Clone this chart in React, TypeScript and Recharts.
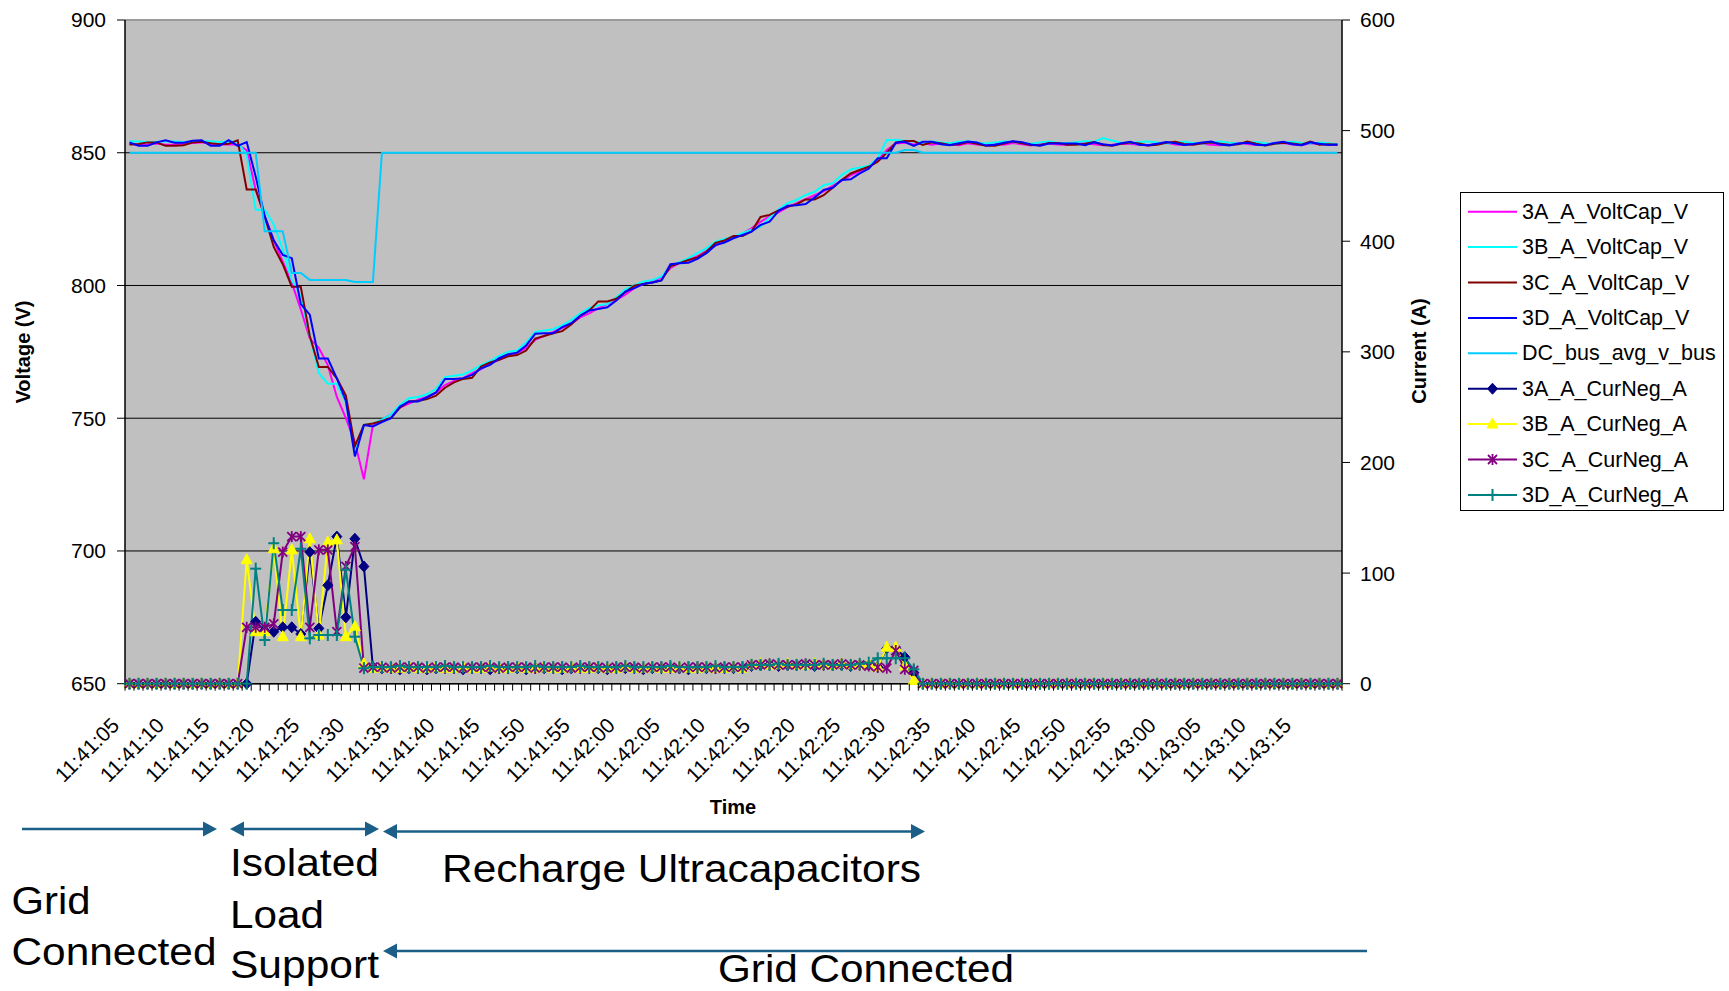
import { LineChart, Line, XAxis, YAxis, CartesianGrid, Legend, ReferenceLine } from "recharts";

const FONT = '"Liberation Sans", Arial, Helvetica, sans-serif';

// one sample per second, 11:41:05 .. 11:43:19
const TIME = [
  "11:41:05", "11:41:06", "11:41:07", "11:41:08", "11:41:09", "11:41:10", "11:41:11", "11:41:12", "11:41:13", "11:41:14",
  "11:41:15", "11:41:16", "11:41:17", "11:41:18", "11:41:19", "11:41:20", "11:41:21", "11:41:22", "11:41:23", "11:41:24",
  "11:41:25", "11:41:26", "11:41:27", "11:41:28", "11:41:29", "11:41:30", "11:41:31", "11:41:32", "11:41:33", "11:41:34",
  "11:41:35", "11:41:36", "11:41:37", "11:41:38", "11:41:39", "11:41:40", "11:41:41", "11:41:42", "11:41:43", "11:41:44",
  "11:41:45", "11:41:46", "11:41:47", "11:41:48", "11:41:49", "11:41:50", "11:41:51", "11:41:52", "11:41:53", "11:41:54",
  "11:41:55", "11:41:56", "11:41:57", "11:41:58", "11:41:59", "11:42:00", "11:42:01", "11:42:02", "11:42:03", "11:42:04",
  "11:42:05", "11:42:06", "11:42:07", "11:42:08", "11:42:09", "11:42:10", "11:42:11", "11:42:12", "11:42:13", "11:42:14",
  "11:42:15", "11:42:16", "11:42:17", "11:42:18", "11:42:19", "11:42:20", "11:42:21", "11:42:22", "11:42:23", "11:42:24",
  "11:42:25", "11:42:26", "11:42:27", "11:42:28", "11:42:29", "11:42:30", "11:42:31", "11:42:32", "11:42:33", "11:42:34",
  "11:42:35", "11:42:36", "11:42:37", "11:42:38", "11:42:39", "11:42:40", "11:42:41", "11:42:42", "11:42:43", "11:42:44",
  "11:42:45", "11:42:46", "11:42:47", "11:42:48", "11:42:49", "11:42:50", "11:42:51", "11:42:52", "11:42:53", "11:42:54",
  "11:42:55", "11:42:56", "11:42:57", "11:42:58", "11:42:59", "11:43:00", "11:43:01", "11:43:02", "11:43:03", "11:43:04",
  "11:43:05", "11:43:06", "11:43:07", "11:43:08", "11:43:09", "11:43:10", "11:43:11", "11:43:12", "11:43:13", "11:43:14",
  "11:43:15", "11:43:16", "11:43:17", "11:43:18", "11:43:19",
];

const VOLT_3A = [
  853.3, 853.0, 853.1, 853.5, 853.0, 853.1, 853.3, 853.7, 853.9, 853.3, 853.1, 853.2, 853.0,
  851, 836, 826, 817, 809, 801, 791, 780, 776.5, 770, 758, 750, 741, 727,
  747.5, 749.5, 751.5, 754, 755.5, 757, 758, 759.5, 762.5, 764, 765, 767, 768.5, 770.5, 772, 773.5,
  774.5, 776.5, 779.5, 781, 782.5, 784, 785.5, 788, 789.5, 791.5, 793, 794.5, 796.5, 799, 800.5, 801.5,
  803, 806.5, 808.5, 809.5, 811, 813, 815, 816.5, 818, 819.5, 821.5, 824, 826, 827.5, 829.5,
  831, 832.5, 834, 835.5, 837.5, 839.5, 841.5, 843, 845, 847, 851, 853.5, 853.8, 853.1, 853.6,
  853.0, 853.5, 853.2, 852.8, 853.6, 853.1, 852.9, 853.3, 853.0, 853.7,
  853.2, 852.7, 853.4, 853.4, 853.1, 852.9, 853.5, 853.6, 853.2, 852.8,
  853.0, 853.4, 853.3, 853.0, 852.7, 853.5, 853.8, 853.1, 852.9, 853.2,
  853.4, 853.0, 852.8, 853.3, 853.6, 853.3, 852.9, 853.0, 853.5, 853.7,
  853.1, 852.8, 853.6, 853.2, 853.4, 852.9,
];

const VOLT_3B = [
  854.3, 854.2, 854.0, 854.1, 854.3, 854.2, 854.0, 854.1, 854.2, 854.3, 854.0, 854.2, 854.1,
  849, 828.5, 828.5, 823, 813.5, 802, 796, 781, 767, 763, 763, 756, 737.5, 747.5,
  748, 749.5, 751.5, 755, 757.5, 758, 759, 761, 765.5, 766, 766.5, 768, 770, 771.5, 773.5, 775,
  775.5, 778.5, 782.5, 783, 783.5, 785, 787, 789.5, 791.5, 792.5, 793, 795.5, 798.5, 800, 801.5, 802,
  803.4, 807.1, 808.8, 810.3, 812.2, 814, 816.5, 817.5, 818.4, 819.7, 821, 822.2, 825.5, 828.7, 831,
  832.2, 834.1, 835.3, 837.8, 838.5, 841.6, 843.7, 844.4, 845, 847.9, 854.8, 854.8, 854.5, 854.2, 853.8,
  854.2, 853.9, 853.6, 854.1, 854.3, 853.8, 853.5, 853.9, 854.2, 854.0,
  853.7, 853.4, 853.9, 854.2, 853.8, 853.6, 854.0, 854.3, 854.1, 855.5,
  854.6, 853.8, 853.6, 854.0, 854.2, 853.9, 853.5, 853.8, 854.1, 853.7,
  853.4, 853.9, 854.2, 853.8, 853.5, 853.7, 854.0, 853.6, 853.3, 853.8,
  854.1, 853.7, 853.5, 853.9, 853.6, 853.2,
];

const VOLT_3C = [
  853.1, 853.3, 853.9, 853.9, 852.6, 852.6, 852.8, 853.9, 854.1, 853.6, 853.2, 853.4, 854.7,
  836.2, 836.2, 826, 814.5, 808, 799.5, 799.5, 781, 769.3, 769.3, 765, 758.5, 739.5, 747.5,
  748, 749, 750, 754, 756.3, 756.5, 757.2, 758.5, 761.5, 763.5, 764.8, 765.2, 769.5, 771, 772, 773.3,
  773.8, 775.5, 780, 781, 782, 782.8, 785.3, 788.6, 790.6, 794, 794, 795, 797.5, 799.9, 800.6, 801.1,
  801.9, 807.2, 808.4, 809.6, 810.6, 812.7, 816, 817, 818.6, 818.6, 820.3, 825.8, 826.6, 828.3, 829.6,
  830.6, 832.4, 832.4, 834, 836.8, 839.7, 842.2, 843.5, 844.7, 846.6, 850, 853.8, 854.4, 854.4, 852.9,
  853.9, 853.6, 852.9, 853.2, 854.0, 853.4, 852.6, 852.6, 853.5, 854.2,
  853.6, 852.9, 852.8, 853.7, 853.7, 853.0, 853.0, 853.4, 854.0, 852.9,
  852.6, 853.4, 853.9, 853.5, 852.7, 853.0, 853.8, 854.1, 853.3, 853.0,
  853.6, 853.9, 853.4, 852.9, 853.2, 854.2, 853.4, 852.7, 853.4, 853.8,
  853.5, 853.0, 854.2, 853.0, 853.2, 853.0,
];

const VOLT_3D = [
  853.9, 852.6, 852.6, 853.9, 854.7, 853.8, 853.8, 854.5, 854.7, 852.6, 852.6, 854.7, 852.6, 854.0,
  841, 826, 817, 811.5, 810.3, 793, 789, 772.5, 772.5, 765, 756.5, 735.6, 747.4,
  746.9, 748.5, 750, 754.4, 756.3, 756.3, 757.9, 759.7, 764.8, 764.8, 765.1, 766.3, 768.8, 770.1, 772.6, 774.1,
  774.7, 777.4, 781.8, 782, 782, 784.3, 785.8, 788.6, 790.6, 791.1, 791.8, 794.3, 797.7, 799, 800.6, 801.1,
  801.9, 808, 808.4, 808.6, 810, 812.2, 815.2, 816.2, 817.8, 819, 820.3, 822.8, 824, 828.1, 830,
  830.2, 830.7, 833.1, 836, 836.8, 839.7, 840, 842.2, 844, 847.9, 847.9, 853.8, 854.1, 852.6, 854.1,
  854.1, 853.2, 852.8, 853.6, 854.2, 853.9, 852.7, 853.0, 853.8, 854.3,
  854.0, 853.1, 852.6, 853.5, 853.5, 853.5, 853.5, 852.8, 853.9, 853.2,
  852.7, 853.6, 854.1, 853.0, 852.8, 853.4, 854.0, 853.6, 852.9, 853.3,
  853.9, 854.2, 853.1, 852.7, 853.5, 853.8, 853.0, 852.8, 853.7, 854.1,
  853.2, 852.8, 853.9, 853.4, 852.9, 853.1,
];

const DC_BUS = [
  850, 850, 850, 850, 850, 850, 850, 850, 850, 850, 850, 850, 850, 850, 850,
  820.4, 820.4, 820.4, 804.7, 804.7, 802.1, 802.1, 802.1, 802.1, 802.1, 801.3, 801.3, 801.3,
  850, 850, 850, 850, 850, 850, 850, 850, 850, 850, 850, 850, 850, 850, 850, 850, 850, 850, 850, 850,
  850, 850, 850, 850, 850, 850, 850, 850, 850, 850, 850, 850, 850, 850, 850, 850, 850, 850, 850, 850,
  850, 850, 850, 850, 850, 850, 850, 850, 850, 850, 850, 850, 850, 850, 850, 850, 850, 850,
  851, 851,
  850, 850, 850, 850, 850, 850, 850, 850, 850, 850, 850, 850, 850, 850, 850, 850, 850, 850, 850, 850,
  850, 850, 850, 850, 850, 850, 850, 850, 850, 850, 850, 850, 850, 850, 850, 850, 850, 850, 850, 850,
  850, 850, 850, 850, 850, 850, 850,
];

const CUR_3A = [
  0, 0, 0, 0, 0, 0, 0, 0, 0, 0, 0, 0, 0, 0,
  56, 48, 47, 51, 51, 45, 119, 50, 89, 133, 60, 131, 106, 15,
  14, 14, 13, 14, 14, 13, 14, 14, 14, 13, 14, 14, 13, 14, 14, 14, 13, 14, 14, 14,
  13, 14, 14, 14, 14, 13, 14, 14, 14, 13, 14, 14, 14, 14, 13, 14, 14, 14, 14, 14, 14,
  16, 17, 17, 16, 17, 17, 17, 16, 17, 17, 17, 16, 17, 17,
  15, 32, 32, 24, 10,
  0, 0, 0, 0, 0, 0, 0, 0, 0, 0, 0, 0, 0, 0, 0, 0, 0, 0, 0, 0, 0, 0, 0, 0,
  0, 0, 0, 0, 0, 0, 0, 0, 0, 0, 0, 0, 0, 0, 0, 0, 0, 0, 0, 0, 0, 0, 0,
];

const CUR_3B = [
  0, 0, 0, 0, 0, 0, 0, 0, 0, 0, 0, 0, 0,
  112, 47, 47, 122, 42.5, 121, 42.5, 131, 44, 128, 130, 42.5, 51.5, 18,
  14, 15, 14, 14, 15, 14, 14, 15, 14, 14, 15, 14, 14, 15, 14, 14, 15, 14, 14, 15,
  14, 14, 15, 14, 14, 15, 14, 14, 15, 14, 14, 15, 14, 14, 15, 14, 14, 15, 14, 14, 15, 14,
  17, 18, 17, 17, 18, 17, 17, 18, 17, 17, 18, 17, 17, 18,
  15, 33, 33, 16, 3,
  0, 0, 0, 0, 0, 0, 0, 0, 0, 0, 0, 0, 0, 0, 0, 0, 0, 0, 0, 0, 0, 0, 0, 0,
  0, 0, 0, 0, 0, 0, 0, 0, 0, 0, 0, 0, 0, 0, 0, 0, 0, 0, 0, 0, 0, 0, 0,
];

const CUR_3C = [
  0, 0, 0, 0, 0, 0, 0, 0, 0, 0, 0, 0, 0,
  51, 51, 51, 54, 119, 133, 133, 51, 121, 121, 47, 106, 124, 14,
  15, 15, 14, 15, 15, 15, 14, 15, 15, 15, 14, 15, 15, 15, 14, 15, 15, 15, 14, 15,
  15, 15, 14, 15, 15, 15, 14, 15, 15, 15, 14, 15, 15, 15, 14, 15, 15, 15, 14, 15, 15, 15,
  17, 17, 18, 17, 17, 17, 18, 17, 17, 17, 18, 17, 17, 16,
  15, 14, 30, 13, 12,
  0, 0, 0, 0, 0, 0, 0, 0, 0, 0, 0, 0, 0, 0, 0, 0, 0, 0, 0, 0, 0, 0, 0, 0,
  0, 0, 0, 0, 0, 0, 0, 0, 0, 0, 0, 0, 0, 0, 0, 0, 0, 0, 0, 0, 0, 0, 0,
];

const CUR_3D = [
  0, 0, 0, 0, 0, 0, 0, 0, 0, 0, 0, 0, 0, 0,
  104, 39.5, 127, 66.6, 66.6, 122, 41, 44, 44, 44, 103, 42.5, 14,
  15, 15, 15, 16, 15, 15, 15, 15, 16, 15, 15, 15, 15, 16, 15, 15, 15, 15, 16, 15,
  15, 15, 15, 16, 15, 15, 15, 15, 16, 15, 15, 15, 15, 16, 15, 15, 15, 15, 16, 15, 15, 15,
  17, 17, 17, 18, 17, 17, 17, 17, 18, 17, 17, 17, 18, 19,
  23, 23, 23, 23, 13,
  0, 0, 0, 0, 0, 0, 0, 0, 0, 0, 0, 0, 0, 0, 0, 0, 0, 0, 0, 0, 0, 0, 0, 0,
  0, 0, 0, 0, 0, 0, 0, 0, 0, 0, 0, 0, 0, 0, 0, 0, 0, 0, 0, 0, 0, 0, 0,
];

const VOLT_TICKS = [650, 700, 750, 800, 850, 900];
const CUR_TICKS = [0, 100, 200, 300, 400, 500, 600];

const SERIES = [
  { key: "v3A", name: "3A_A_VoltCap_V", color: "#ff00ff", axis: "v", shape: null },
  { key: "v3B", name: "3B_A_VoltCap_V", color: "#00ffff", axis: "v", shape: null },
  { key: "v3C", name: "3C_A_VoltCap_V", color: "#800000", axis: "v", shape: null },
  { key: "v3D", name: "3D_A_VoltCap_V", color: "#0000ff", axis: "v", shape: null },
  { key: "dc", name: "DC_bus_avg_v_bus", color: "#00ccff", axis: "v", shape: null },
  { key: "c3A", name: "3A_A_CurNeg_A", color: "#000080", axis: "a", shape: "diamond" },
  { key: "c3B", name: "3B_A_CurNeg_A", color: "#ffff00", axis: "a", shape: "triangle" },
  { key: "c3C", name: "3C_A_CurNeg_A", color: "#800080", axis: "a", shape: "star" },
  { key: "c3D", name: "3D_A_CurNeg_A", color: "#008080", axis: "a", shape: "plus" },
];

const data = TIME.map((time, i) => ({
  time,
  v3A: VOLT_3A[i],
  v3B: VOLT_3B[i],
  v3C: VOLT_3C[i],
  v3D: VOLT_3D[i],
  dc: DC_BUS[i],
  c3A: CUR_3A[i],
  c3B: CUR_3B[i],
  c3C: CUR_3C[i],
  c3D: CUR_3D[i],
}));

const PLOT_LEFT = 125;
const PLOT_RIGHT = 1342;
const BAND = (PLOT_RIGHT - PLOT_LEFT) / TIME.length;

function Marker({ shape, cx, cy, color }: { shape: string | null; cx: number; cy: number; color: string }) {
  if (cx == null || cy == null) return null;
  if (shape === "diamond") {
    return <polygon points={`${cx},${cy - 5.5} ${cx + 5},${cy} ${cx},${cy + 5.5} ${cx - 5},${cy}`} fill={color} stroke={color} />;
  }
  if (shape === "triangle") {
    return <polygon points={`${cx},${cy - 6} ${cx + 5.5},${cy + 4} ${cx - 5.5},${cy + 4}`} fill={color} stroke={color} />;
  }
  if (shape === "star") {
    return (
      <g stroke={color} strokeWidth={1.8}>
        <line x1={cx - 4.5} y1={cy - 4.5} x2={cx + 4.5} y2={cy + 4.5} />
        <line x1={cx - 4.5} y1={cy + 4.5} x2={cx + 4.5} y2={cy - 4.5} />
        <line x1={cx} y1={cy - 5.5} x2={cx} y2={cy + 5.5} />
      </g>
    );
  }
  if (shape === "plus") {
    return (
      <g stroke={color} strokeWidth={2}>
        <line x1={cx - 5.5} y1={cy} x2={cx + 5.5} y2={cy} />
        <line x1={cx} y1={cy - 6} x2={cx} y2={cy + 6} />
      </g>
    );
  }
  return null;
}

function TimeTick(props: any) {
  const { x, y, payload } = props;
  const idx = payload?.index ?? props.index ?? 0;
  const half = BAND / 2;
  const lx = x - 9;
  const ly = y + 43;
  return (
    <g>
      <line x1={x - half} x2={x - half} y1={y} y2={y + 7} stroke="#000" strokeWidth={1} />
      {idx === TIME.length - 1 && <line x1={x + half} x2={x + half} y1={y} y2={y + 7} stroke="#000" strokeWidth={1} />}
      {idx % 5 === 0 && (
        <text x={lx} y={ly} textAnchor="end" transform={`rotate(-45, ${lx}, ${ly})`} fontSize={21} fontFamily={FONT} fill="#000">
          {payload.value}
        </text>
      )}
    </g>
  );
}

function LegendBox() {
  return (
    <svg width={265} height={320} style={{ display: "block" }}>
      <rect x={0.5} y={0.5} width={263} height={318} fill="#fff" stroke="#000" strokeWidth={1} />
      {SERIES.map((s, i) => {
        const cy = 19.7 + i * 35.4;
        return (
          <g key={s.key}>
            <line x1={8} x2={57} y1={cy} y2={cy} stroke={s.color} strokeWidth={2} />
            {s.shape && <Marker shape={s.shape} cx={32.5} cy={cy} color={s.color} />}
            <text x={62} y={cy} dominantBaseline="central" fontSize={21.5} fontFamily={FONT} fill="#000">
              {s.name}
            </text>
          </g>
        );
      })}
    </svg>
  );
}

const ARROW = "#1b5e87";

function Head({ x, y, dir }: { x: number; y: number; dir: number }) {
  return <polygon points={`${x},${y} ${x - dir * 14},${y - 7.5} ${x - dir * 14},${y + 7.5}`} fill={ARROW} />;
}

function Annotations() {
  const big = { fontSize: 38, fontFamily: FONT, fill: "#000", lengthAdjust: "spacingAndGlyphs" as const };
  return (
    <svg width={1729} height={991} style={{ position: "absolute", left: 0, top: 0, pointerEvents: "none" }}>
      <text x={22.5} y={352} transform="rotate(-90, 22.5, 352)" textAnchor="middle" dominantBaseline="central" fontSize={20} fontWeight="bold" fontFamily={FONT}>
        Voltage (V)
      </text>
      <text x={1419} y={351} transform="rotate(-90, 1419, 351)" textAnchor="middle" dominantBaseline="central" fontSize={20} fontWeight="bold" fontFamily={FONT}>
        Current (A)
      </text>
      <text x={733} y={814} textAnchor="middle" fontSize={20} fontWeight="bold" fontFamily={FONT}>
        Time
      </text>

      <g stroke={ARROW} strokeWidth={2.5}>
        <line x1={22} y1={829} x2={205} y2={829} />
        <line x1={242} y1={829} x2={367} y2={829} />
        <line x1={395} y1={831.5} x2={913} y2={831.5} />
        <line x1={395} y1={951} x2={1367} y2={951} />
      </g>
      <Head x={217} y={829} dir={1} />
      <Head x={230} y={829} dir={-1} />
      <Head x={379} y={829} dir={1} />
      <Head x={383} y={831.5} dir={-1} />
      <Head x={925} y={831.5} dir={1} />
      <Head x={383} y={951} dir={-1} />

      <text x={11.5} y={914} textLength={79} {...big}>Grid</text>
      <text x={11.5} y={965} textLength={205} {...big}>Connected</text>
      <text x={230} y={876} textLength={149} {...big}>Isolated</text>
      <text x={230} y={928} textLength={94} {...big}>Load</text>
      <text x={230} y={978} textLength={149} {...big}>Support</text>
      <text x={442} y={881.5} textLength={479} {...big}>Recharge Ultracapacitors</text>
      <text x={718} y={982} textLength={296} {...big}>Grid Connected</text>
    </svg>
  );
}

export default function App() {
  return (
    <div style={{ position: "absolute", left: 0, top: 0, width: 1729, height: 991, background: "#fff", fontFamily: FONT }}>
      <LineChart width={1729} height={991} data={data} margin={{ top: 20, right: 307, bottom: 207.3, left: 0 }}>
        <CartesianGrid yAxisId="v" vertical={false} stroke="#000" strokeWidth={1} fill="#c0c0c0" fillOpacity={1} />
        <XAxis
          dataKey="time"
          interval={0}
          padding={{ left: BAND / 2, right: BAND / 2 }}
          height={100}
          tickSize={0}
          tickMargin={0}
          tickLine={false}
          axisLine={{ stroke: "#000", strokeWidth: 1.5 }}
          tick={<TimeTick />}
        />
        <YAxis
          yAxisId="v"
          orientation="left"
          width={125}
          domain={[650, 900]}
          ticks={VOLT_TICKS}
          interval={0}
          tickSize={8}
          tickMargin={11}
          axisLine={{ stroke: "#000", strokeWidth: 1.5 }}
          tickLine={{ stroke: "#000" }}
          tick={{ fontSize: 21, fill: "#000", fontFamily: FONT }}
        />
        <YAxis
          yAxisId="a"
          orientation="right"
          width={80}
          domain={[0, 600]}
          ticks={CUR_TICKS}
          interval={0}
          tickSize={8}
          tickMargin={10}
          axisLine={{ stroke: "#000", strokeWidth: 1.5 }}
          tickLine={{ stroke: "#000" }}
          tick={{ fontSize: 21, fill: "#000", fontFamily: FONT }}
        />
        <ReferenceLine yAxisId="v" y={900} stroke="#9a9a9a" strokeWidth={2} />
        {SERIES.map((s) => (
          <Line
            key={s.key}
            yAxisId={s.axis}
            dataKey={s.key}
            name={s.name}
            type="linear"
            stroke={s.color}
            strokeWidth={2}
            dot={
              s.shape
                ? (p: any) => <Marker key={`${s.key}-${p.index}`} shape={s.shape} cx={p.cx} cy={p.cy} color={s.color} />
                : false
            }
            activeDot={false}
            isAnimationActive={false}
          />
        ))}
        <Legend
          layout="vertical"
          align="center"
          verticalAlign="middle"
          wrapperStyle={{ left: 1460, top: 192, width: 265, height: 320 }}
          content={() => <LegendBox />}
        />
      </LineChart>
      <Annotations />
    </div>
  );
}
